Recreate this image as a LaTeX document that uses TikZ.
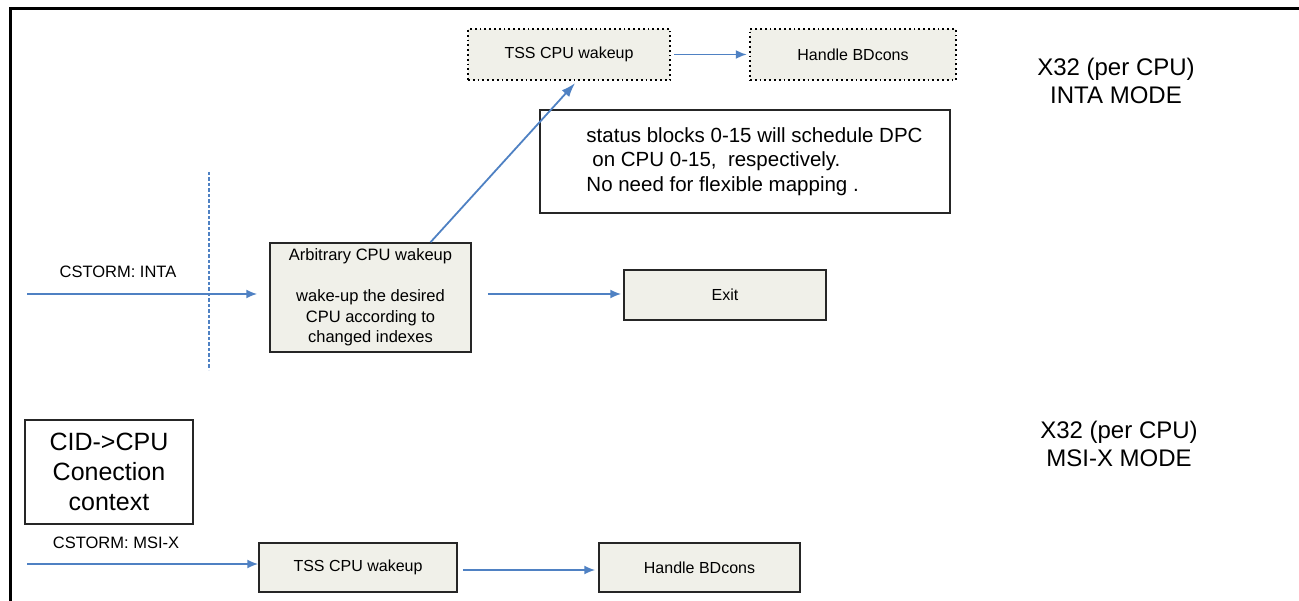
\documentclass[tikz,border=0pt]{standalone}
\usepackage{fontspec}
\setmainfont{Liberation Sans}
\usetikzlibrary{arrows.meta}
\definecolor{flowblue}{RGB}{79,129,195}
\definecolor{boxfill}{RGB}{240,240,233}
\tikzset{
  stepbox/.style={draw=black!85, line width=1.5pt, fill=boxfill, rectangle,
    inner sep=0pt, font=\fontsize{16}{20}\selectfont, align=center},
  dotbox/.style={stepbox, draw=black, line width=2.4pt, dash pattern=on 1.8pt off 3pt},
  plainbox/.style={draw=black!85, line width=1.5pt, fill=white, rectangle, inner sep=0pt},
  flow/.style={draw=flowblue, line width=1.8pt, -{Latex[length=11pt,width=9pt]}},
  lbl/.style={font=\fontsize{16.5}{20}\selectfont, inner sep=0pt},
  modelbl/.style={font=\fontsize{24}{28}\selectfont, align=center, inner sep=0pt},
}
\begin{document}
\begin{tikzpicture}[x=1pt, y=-1pt]
\useasboundingbox (0,0) rectangle (1299,601);
% outer frame (top and left edges)
\draw[line width=3pt] (1299,9) -- (10,9) -- (10,601);

% INTA mode
\node[dotbox, minimum width=202pt, minimum height=51pt] (tss1) at (569,54.5) {TSS CPU wakeup};
\node[dotbox, minimum width=206pt, minimum height=51pt] (hbd1) at (853,54.5) {Handle BDcons};
\node[modelbl] (inta) at (1116,81) {X32 (per CPU)\\INTA MODE};

\node[plainbox, minimum width=410pt, minimum height=103pt] (note) at (745,161.5) {};
\node[anchor=west, align=left, inner sep=0pt, font=\fontsize{20.5}{24.5}\selectfont] (notetext)
  at ([xshift=47pt]note.west)
  {status blocks 0-15 will schedule DPC\\\hspace{6pt}on CPU 0-15,\ \ respectively.\\No need for flexible mapping .};

\node[stepbox, minimum width=201pt, minimum height=109pt, font=\fontsize{16.5}{20.5}\selectfont] (arb) at (370.5,297.5)
  {Arbitrary CPU wakeup\\[20.5pt]wake-up the desired\\CPU according to\\changed indexes};
\node[stepbox, minimum width=202pt, minimum height=50pt] (exit) at (725,295) {Exit};

\node[lbl] (cstinta) at (118,272) {CSTORM: INTA};
\coordinate (in1) at (27,294);
\coordinate (barTop) at (209,172);
\coordinate (barBot) at (209,370);
\draw[flowblue, line width=2.2pt, dash pattern=on 3.5pt off 2pt] (barTop) -- (barBot);

\draw[flow] (in1) -- ([xshift=-12pt]arb.west |- in1);
\draw[flow] ([xshift=16pt]arb.east |- in1) -- ([xshift=-2pt]exit.west |- in1);
\draw[flow, -{Latex[length=14pt,width=10pt]}] ([xshift=60pt]arb.north) -- ([xshift=6pt,yshift=-2pt]tss1.south);
\draw[flow] ([xshift=3pt]tss1.east) -- ([xshift=-2pt]hbd1.west);

% MSI-X mode
\node[plainbox, minimum width=168pt, minimum height=104pt, align=center,
  font=\fontsize{25}{30}\selectfont] (cid) at (109,472) {CID->CPU\\Conection\\context};
\node[modelbl] (msix) at (1119,444) {X32 (per CPU)\\MSI-X MODE};

\node[lbl] (cstmsi) at (116,543) {CSTORM: MSI-X};
\coordinate (in2) at (27,564);
\coordinate (mid2) at (462,570);
\node[stepbox, minimum width=198pt, minimum height=49pt] (tss2) at (358,567.5) {TSS CPU wakeup};
\node[stepbox, minimum width=201pt, minimum height=49pt] (hbd2) at (699.5,567.5) {Handle BDcons};

\draw[flow] (in2) -- (tss2.west |- in2);
\draw[flow] ([xshift=5pt]tss2.east |- mid2) -- ([xshift=-3pt]hbd2.west |- mid2);
\end{tikzpicture}
\end{document}
